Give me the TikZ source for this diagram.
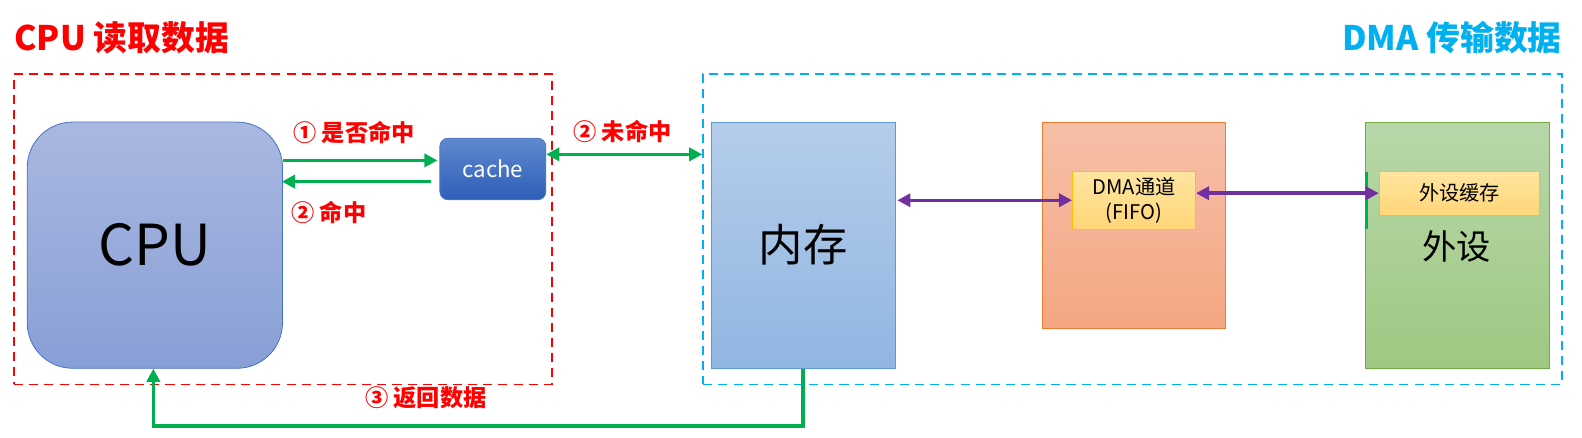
\documentclass[tikz,border=0pt]{standalone}
\usepackage{fontspec}
\setmainfont{Noto Sans CJK SC}
\usetikzlibrary{arrows.meta}
\definecolor{tred}{RGB}{255,0,0}
\definecolor{tcyan}{RGB}{0,176,240}
\definecolor{tgreen}{RGB}{0,176,80}
\definecolor{tpurple}{RGB}{112,48,160}
\begin{document}
\begin{tikzpicture}[x=1pt,y=-1pt,
  box/.style={inner sep=0pt, line width=0.8pt, align=center},
  region/.style={draw, line width=1.8pt, dash pattern=on 9pt off 6pt, minimum width=#1, inner sep=0pt},
  lbl/.style={text=tred, font=\bfseries\fontsize{23}{26}\selectfont, inner sep=0pt},
  title/.style={font=\bfseries\fontsize{33.5}{38}\selectfont, inner sep=0pt},
  garrow/.style={draw=tgreen, line width=3.5pt, -{Triangle[length=13pt,width=13pt]}},
  gdarrow/.style={draw=tgreen, line width=3.5pt, {Triangle[length=13pt,width=13pt]}-{Triangle[length=13pt,width=13pt]}},
  pdarrow/.style={draw=tpurple, line width=3.5pt, {Triangle[length=13pt,width=13pt]}-{Triangle[length=13pt,width=13pt]}},
  ybox/.style={box, draw={rgb,255:red,255;green,192;blue,0}, top color={rgb,255:red,255;green,229;blue,160}, bottom color={rgb,255:red,255;green,214;blue,120}, font=\fontsize{20}{25}\selectfont}
]
\useasboundingbox (0,0) rectangle (1568,434);

% titles
\node[title, text=tred, anchor=west] (t1) at (14,37) {CPU 读取数据};
\node[title, text=tcyan, anchor=east] (t2) at (1548,37) {DMA 传输数据};

% regions
\node[region=533pt, draw=tred, minimum height=308pt] (cpureg) at (280.5,227) {};
\node[region=851pt, draw=tcyan, minimum height=308pt] (dmareg) at (1122.5,227) {};

% CPU
\node[box, draw={rgb,255:red,68;green,114;blue,196}, rounded corners=45pt,
      top color={rgb,255:red,170;green,184;blue,224}, bottom color={rgb,255:red,136;green,159;blue,214},
      minimum width=253pt, minimum height=244pt, font=\fontsize{56}{64}\selectfont] (cpu) at (153.5,243) {CPU};

% cache
\node[box, draw={rgb,255:red,80;green,120;blue,200}, rounded corners=8pt,
      top color={rgb,255:red,95;green,136;blue,206}, bottom color={rgb,255:red,46;green,94;blue,184},
      minimum width=105pt, minimum height=61pt, text=white, font=\fontsize{22}{26}\selectfont] (cache) at (488.5,167.5) {cache};

% memory
\node[box, draw={rgb,255:red,91;green,155;blue,213},
      top color={rgb,255:red,181;green,205;blue,234}, bottom color={rgb,255:red,144;green,182;blue,226},
      minimum width=182pt, minimum height=244pt, font=\fontsize{44}{50}\selectfont] (mem) at (796,243) {内存};

% DMA controller
\node[box, draw={rgb,255:red,237;green,125;blue,49},
      top color={rgb,255:red,246;green,192;blue,168}, bottom color={rgb,255:red,245;green,166;blue,130},
      minimum width=182pt, minimum height=204pt] (dma) at (1124,223) {};
\node[ybox, minimum width=122pt, minimum height=57pt] (fifo) at (1124,198.5) {DMA通道\\(FIFO)};

% peripheral
\node[box, draw={rgb,255:red,112;green,173;blue,71},
      top color={rgb,255:red,184;green,215;blue,169}, bottom color={rgb,255:red,159;green,200;blue,130},
      minimum width=183pt, minimum height=244pt] (per) at (1444.5,243) {};
\node[font=\fontsize{34}{40}\selectfont, inner sep=0pt] (pertext) at (1444,244) {外设};
\node[ybox, minimum width=159pt, minimum height=43pt] (buf) at (1446.5,191.5) {外设缓存};

% green bar on peripheral edge
\draw[tgreen, line width=3pt] ([xshift=2pt,yshift=73pt]per.west) -- ([xshift=2pt,yshift=16pt]per.west);

% CPU <-> cache
\draw[garrow] ([yshift=84pt]cpu.east) -- ([xshift=-2pt,yshift=8.5pt]cache.west);
\draw[garrow] ([xshift=-8pt,yshift=-12.5pt]cache.west) -- ([xshift=-1pt,yshift=63pt]cpu.east);
\node[lbl] (l1) at (351,131) {① 是否命中};
\node[lbl] (l2) at (326,211) {② 命中};

% cache <-> memory region
\draw[gdarrow] ([yshift=14.5pt]cache.east) -- ([yshift=74pt]dmareg.west);
\node[lbl] (l3) at (617,130) {② 未命中};

% memory <-> fifo <-> buffer
\draw[pdarrow] ([xshift=2pt]mem.east |- fifo.west) -- (fifo.west);
\draw[pdarrow] (fifo.east |- buf.west) -- (buf.west);

% return data
\draw[garrow] (mem.south) -- ++(0,57) -| ([xshift=-1.5pt]cpu.south);
\node[lbl] (l4) at (422,394) {③ 返回数据};
\end{tikzpicture}
\end{document}
